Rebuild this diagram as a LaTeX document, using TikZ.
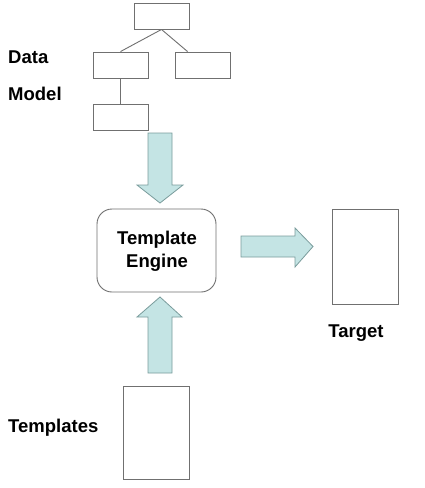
\documentclass[tikz,border=0pt]{standalone}
\usepackage{fontspec}
\setmainfont{Liberation Sans}
\usetikzlibrary{calc}
\definecolor{boxline}{HTML}{707070}
\definecolor{arrfill}{HTML}{C4E4E4}
\definecolor{arrline}{HTML}{7A9C9C}
\begin{document}
\begin{tikzpicture}[x=1pt,y=-1pt,
  rect/.style={draw=boxline,line width=0.9pt,fill=white},
  lbl/.style={font=\fontsize{18.5}{22}\selectfont\bfseries,text=black,inner sep=0pt},
  blockarrow/.style={fill=arrfill,draw=arrline,line width=0.8pt,line join=miter},
  tree/.style={draw=boxline,line width=0.9pt}]
\useasboundingbox[fill=white] (0,0) rectangle (425,488);
% data model tree
\node[rect,minimum width=55pt,minimum height=26pt,inner sep=0pt] (top) at (161.5,16) {};
\node[rect,minimum width=55pt,minimum height=26pt,inner sep=0pt] (ml) at (120.5,65) {};
\node[rect,minimum width=55pt,minimum height=26pt,inner sep=0pt] (mr) at (202.5,65) {};
\node[rect,minimum width=55pt,minimum height=26pt,inner sep=0pt] (bl) at (120.5,117) {};
\coordinate (mrj) at ($(mr.north west)+(13,0)$);
\draw[tree] (top.south) -- (ml.north);
\draw[tree] (top.south) -- (mrj);
\draw[tree] (ml.south) -- (bl.north);
\node[lbl,anchor=west] (data) at (8,57) {Data};
\node[lbl,anchor=west] (model) at (8,94) {Model};
% down arrow
\draw[blockarrow] (148,133) -- (172,133) -- (172,185) -- (183,185) -- (160,203) -- (137,185) -- (148,185) -- cycle;
% engine
\node[draw=boxline,line width=0.9pt,rounded corners=15pt,minimum width=119pt,minimum height=83pt,inner sep=0pt] (eng) at (156.5,250.5) {};
\node[lbl,align=center,font=\fontsize{18.5}{23}\selectfont\bfseries] (engtxt) at (157,251.5) {Template\\Engine};
% up arrow
\draw[blockarrow] (148,373) -- (172,373) -- (172,317) -- (182,317) -- (160,297) -- (137,317) -- (148,317) -- cycle;
% right arrow
\draw[blockarrow] (241,236) -- (295,236) -- (295,228) -- (313,246.5) -- (295,267) -- (295,257) -- (241,257) -- cycle;
% target
\node[rect,minimum width=66pt,minimum height=95pt,inner sep=0pt] (target) at (365,256.5) {};
\node[lbl] (targettxt) at (356,333) {Target};
% templates
\node[rect,minimum width=66pt,minimum height=93pt,inner sep=0pt] (tmpl) at (156,432.5) {};
\node[lbl,anchor=west] (tmpltxt) at (8,428) {Templates};
\end{tikzpicture}
\end{document}
